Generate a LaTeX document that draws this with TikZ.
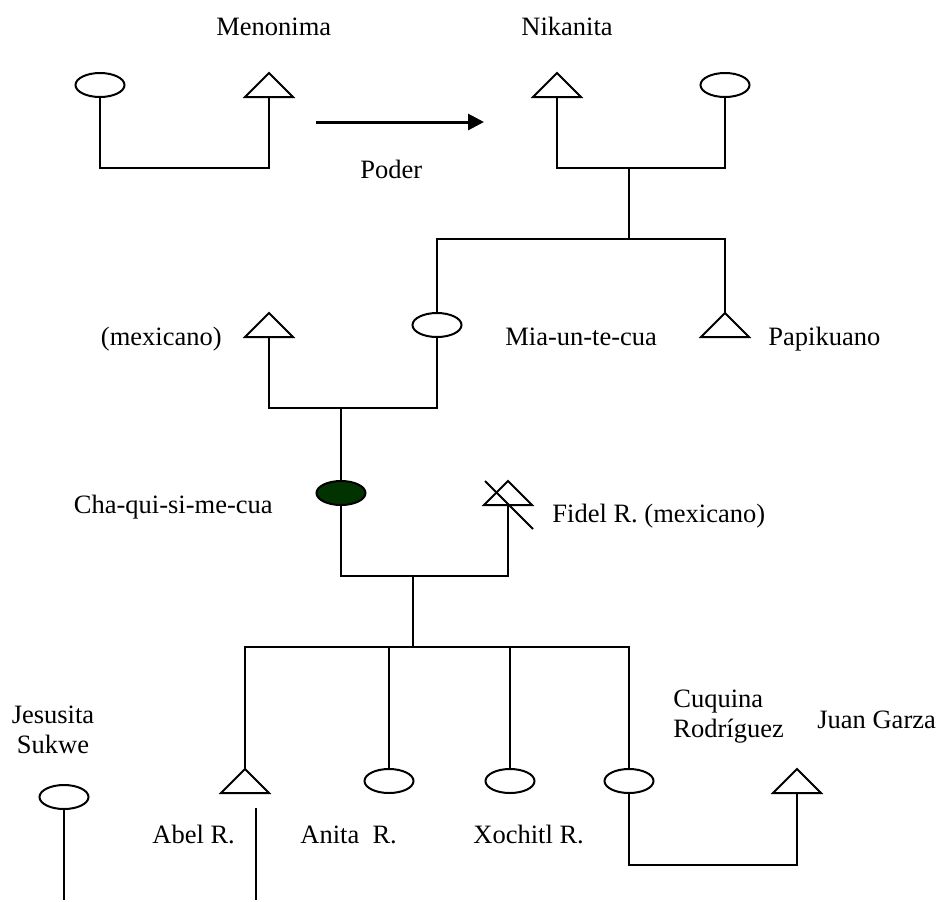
\documentclass[tikz,border=0pt]{standalone}
\usepackage{fontspec}
\setmainfont{Liberation Serif}
\usetikzlibrary{arrows.meta,shapes.geometric}
\definecolor{deadgreen}{RGB}{0,51,0}
\tikzset{
  kin/.style={line width=1pt, line join=miter},
  fem/.style={ellipse, draw, line width=1pt, minimum width=24.5pt, minimum height=12pt, inner sep=0pt},
  lbl/.style={anchor=base west, inner sep=0pt, font=\fontsize{13.25pt}{15.9pt}\selectfont},
  lblr/.style={lbl, anchor=base east},
  tri/.pic={\draw[kin] (-24,12) -- (0,-12) -- (24,12) -- cycle;
            \coordinate (-top) at (0,-12); \coordinate (-bot) at (0,12);},
  deadtri/.pic={\draw[kin] (-24,12) -- (0,-12) -- (24,12) -- cycle;
            \draw[kin] (-23,-12) -- (25,36);
            \coordinate (-top) at (0,-12); \coordinate (-bot) at (0,12);}
}
\begin{document}
\begin{tikzpicture}[x=0.5pt, y=-0.5pt]
\useasboundingbox (0,0) rectangle (937,901);
% symbols
\pic (tA) at (269,85) {tri};
\pic (tB) at (557,85) {tri};
\pic (tC) at (269,325) {tri};
\pic (tD) at (725,325) {tri};
\pic (tE) at (508,493) {deadtri};
\pic (tF) at (245,781) {tri};
\pic (tG) at (797,781) {tri};
\node[fem] (eA) at (100,85) {};
\node[fem] (eB) at (725,85) {};
\node[fem] (eC) at (437,325) {};
\node[fem, fill=deadgreen] (eD) at (341,493) {};
\node[fem] (eE) at (64,797) {};
\node[fem] (eF) at (389,781) {};
\node[fem] (eG) at (510,781) {};
\node[fem] (eH) at (629,781) {};
% junction coordinates
\coordinate (mA) at (185,168);
\coordinate (mB) at (629,168);
\coordinate (jB) at (629,239);
\coordinate (mC) at (341,408);
\coordinate (mD) at (413,576);
\coordinate (jD) at (413,647);
\coordinate (mH) at (713,865);
\coordinate (jE) at (64,900);
\coordinate (a1) at (256,808);
\coordinate (a2) at (256,900);
\coordinate (p1) at (316,122);
\coordinate (p2) at (484,122);
% connectors
\draw[kin] (eA.south) |- (mA) -| (tA-bot);
\draw[kin] (tB-bot) |- (mB) -| (eB.south);
\draw[kin] (mB) -- (jB);
\draw[kin] (eC.north) |- (jB) -| (tD-top);
\draw[kin] (tC-bot) |- (mC) -| (eC.south);
\draw[kin] (mC) -- (eD.north);
\draw[kin] (eD.south) |- (mD) -| (tE-bot);
\draw[kin] (mD) -- (jD);
\draw[kin] (tF-top) |- (jD) -| (eH.north);
\draw[kin] (eF.north) -- (eF.north |- jD);
\draw[kin] (eG.north) -- (eG.north |- jD);
\draw[kin] (eH.south) |- (mH) -| (tG-bot);
\draw[kin] (eE.south) -- (jE);
\draw[kin] (a1) -- (a2);
\draw[line width=1.5pt, -{Triangle[length=8pt,width=8pt]}] (p1) -- (p2);
% labels
\node[lbl] (lMen) at (216,35) {Menonima};
\node[lbl] (lNik) at (521,35) {Nikanita};
\node[lbl] (lPod) at (360,178) {Poder};
\node[lblr] (lMex) at (222,345) {(mexicano)};
\node[lbl] (lMia) at (505,345) {Mia-un-te-cua};
\node[lbl] (lPap) at (768,345) {Papikuano};
\node[lblr] (lCha) at (273,513) {Cha-qui-si-me-cua};
\node[lbl] (lFid) at (552,522) {Fidel R. (mexicano)};
\node[lbl] (lCuq) at (673,707) {Cuquina};
\node[lbl] (lRod) at (673,737) {Rodríguez};
\node[lbl] (lJua) at (817,728) {Juan Garza};
\node[lbl, anchor=base] (lJes) at (53,723) {Jesusita};
\node[lbl, anchor=base] (lSuk) at (53,753) {Sukwe};
\node[lbl] (lAbe) at (152,843) {Abel R.};
\node[lbl] (lAni) at (300,843) {Anita\ \ R.};
\node[lbl] (lXoc) at (473,843) {Xochitl R.};
\end{tikzpicture}
\end{document}
